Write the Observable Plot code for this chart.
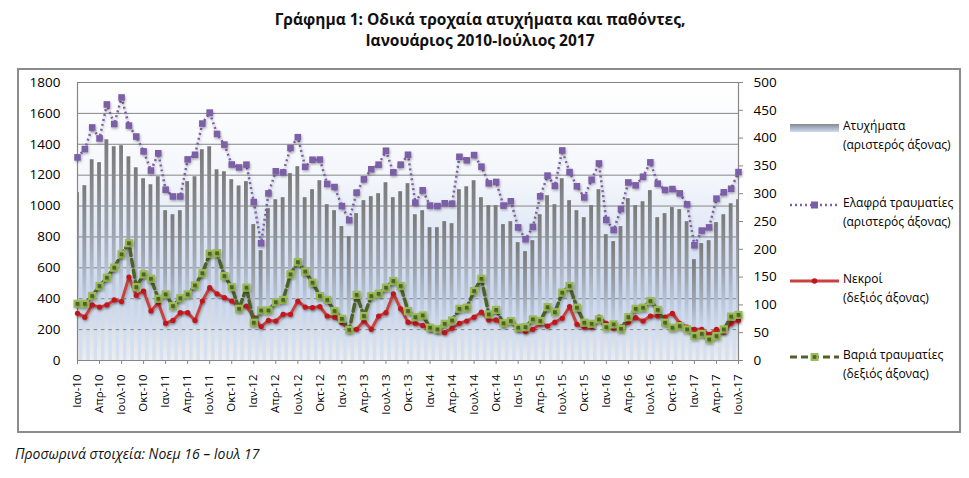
<!DOCTYPE html>
<html>
<head>
<meta charset="utf-8">
<script src="https://cdn.jsdelivr.net/npm/d3@7"></script>
<script src="https://cdn.jsdelivr.net/npm/@observablehq/plot@0.6"></script>
<style>
  html, body { margin: 0; padding: 0; background: #fff; }
  body { width: 969px; height: 478px; position: relative; overflow: hidden; font-family: "Open Sans", "Noto Sans", sans-serif; color: #000; }
  .title { position: absolute; left: 0; width: 960px; top: 9px; text-align: center; font-weight: 700; font-size: 15.5px; line-height: 21px; color: #111; }
  .frame { position: absolute; left: 17px; top: 68px; width: 944px; height: 365px; border: 2px solid #8c8c8c; box-sizing: border-box; }
  #chart { position: absolute; left: 0; top: 68px; }
  .caption { position: absolute; left: 15px; top: 445px; font-style: italic; font-size: 14px; line-height: 17px; color: #111; white-space: nowrap; }
  .leg { position: absolute; left: 790px; font-size: 12px; line-height: 18.5px; white-space: nowrap; }
  .leg svg { position: absolute; left: 0; }
  .leg .t { position: absolute; left: 53px; top: 0; }
</style>
</head>
<body>
<div class="title">Γράφημα 1: Οδικά τροχαία ατυχήματα και παθόντες,<br>Ιανουάριος 2010-Ιούλιος 2017</div>
<div class="frame"></div>
<div id="chart"></div>
<div id="legend"></div>
<div class="caption">Προσωρινά στοιχεία: Νοεμ 16 – Ιουλ 17</div>
<script>
// Monthly data, Jan 2010 – Jul 2017 (91 months)
const accidents = [1087,1132,1300,1281,1429,1384,1391,1319,1248,1177,1138,1190,
  970,944,970,1158,1190,1365,1384,1235,1222,1171,1130,1158,
  880,711,983,1041,1054,1210,1255,1054,1106,1164,1009,970,
  867,802,951,1035,1061,1080,1151,1054,1093,1145,944,970,
  860,860,899,886,1106,1125,1164,1054,1003,1003,880,899,
  763,705,776,944,1067,1009,1177,1035,970,925,1003,1106,
  815,770,867,1048,1003,1028,1100,925,951,990,977,899,
  653,757,776,893,944,1015,1041];
const lightInjured = [1315,1369,1509,1438,1658,1531,1703,1521,1450,1354,1230,1342,
  1106,1062,1062,1302,1332,1534,1605,1467,1398,1269,1250,1268,
  1026,759,1082,1225,1218,1376,1446,1254,1300,1301,1143,1123,
  1000,908,1087,1173,1238,1268,1358,1218,1268,1332,1022,1102,
  1003,1000,1018,1015,1319,1296,1330,1255,1147,1156,1003,1031,
  862,785,865,1063,1197,1130,1360,1220,1128,1056,1171,1276,
  910,845,981,1153,1134,1190,1283,1145,1104,1110,1082,1011,
  746,841,862,1048,1089,1112,1220];
const deaths = [85,78,100,96,100,109,106,150,117,125,89,104,
  67,72,86,86,72,107,131,120,113,107,95,98,
  77,61,72,71,83,83,107,96,95,97,80,78,
  68,56,56,71,56,80,86,120,93,69,67,63,
  56,53,50,58,67,71,78,87,73,73,65,72,
  56,52,56,66,62,69,76,97,65,60,60,78,
  67,58,60,69,77,71,80,80,78,85,67,60,
  56,56,47,56,51,67,72];
const seriousInjured = [102,102,116,134,149,167,191,211,132,155,147,111,
  119,98,112,119,135,157,192,193,152,132,93,131,
  68,90,90,105,109,155,177,160,140,116,109,89,
  75,55,118,80,116,120,131,143,134,89,78,81,
  59,56,66,72,93,95,125,147,83,91,67,71,
  59,60,74,71,96,87,122,134,95,68,66,74,
  60,65,57,78,93,95,107,91,68,59,62,56,
  44,48,38,44,56,79,82];
const tickLabels = ["Ιαν-10","Απρ-10","Ιουλ-10","Οκτ-10","Ιαν-11","Απρ-11","Ιουλ-11","Οκτ-11",
  "Ιαν-12","Απρ-12","Ιουλ-12","Οκτ-12","Ιαν-13","Απρ-13","Ιουλ-13","Οκτ-13",
  "Ιαν-14","Απρ-14","Ιουλ-14","Οκτ-14","Ιαν-15","Απρ-15","Ιουλ-15","Οκτ-15",
  "Ιαν-16","Απρ-16","Ιουλ-16","Οκτ-16","Ιαν-17","Απρ-17","Ιουλ-17"];
const leftTicks = [0,200,400,600,800,1000,1200,1400,1600,1800];
const rightTicks = [0,50,100,150,200,250,300,350,400,450,500];

const LEFT_MAX = 1800, RIGHT_MAX = 500, K = LEFT_MAX / RIGHT_MAX;
const rows = accidents.map((a, i) => ({
  i, acc: a, light: lightInjured[i], dead: deaths[i] * K, serious: seriousInjured[i] * K
}));
const tickIdx = tickLabels.map((_, j) => j * 3);
const GRID = "#868686";

const svg = Plot.plot({
  width: 969, height: 365,
  marginLeft: 77, marginRight: 231, marginTop: 14, marginBottom: 73,
  x: {domain: [0, rows.length - 1], label: null},
  y: {domain: [0, LEFT_MAX], label: null},
  style: {fontFamily: "'Open Sans', 'Noto Sans', sans-serif", background: "transparent", color: "#000", overflow: "visible"},
  marks: [
    Plot.frame({fill: "url(#bgGrad)", stroke: "none"}),
    Plot.ruleY(leftTicks, {stroke: GRID, strokeWidth: 1}),
    Plot.rectY(rows, {x1: d => d.i - 0.26, x2: d => d.i + 0.26, y: "acc", fill: "url(#barGrad)", clip: true}),
    Plot.ruleX([0, rows.length - 1], {stroke: GRID, strokeWidth: 1.2}),
    Plot.ruleY([0], {stroke: GRID, strokeWidth: 1.2}),
    Plot.axisY({anchor: "left", ticks: leftTicks, tickFormat: d => String(d), tickSize: 0, tickPadding: 17, fontSize: 13.5, label: null}),
    Plot.axisY({anchor: "right", ticks: rightTicks.map(v => v * K), tickFormat: d => String(Math.round(d / K)),
      tickSize: 4, tickPadding: 11, fontSize: 13.5, stroke: GRID, label: null}),
    Plot.axisX({anchor: "bottom", ticks: tickIdx, tickFormat: d => tickLabels[Math.round(d / 3)],
      tickRotate: -90, tickSize: 4, tickPadding: 10, fontSize: 11.5, stroke: GRID, label: null}),
    // light injuries (left axis)
    Plot.line(rows, {x: "i", y: "light", stroke: "#7b5ea7", strokeWidth: 2.5, strokeDasharray: "2,3", strokeLinecap: "butt"}),
    Plot.dot(rows, {x: "i", y: "light", symbol: "square", r: 3.7, fill: "#7b5ea7", stroke: "none"}),
    // deaths (right axis)
    Plot.line(rows, {x: "i", y: "dead", stroke: "#c8423f", strokeWidth: 3}),
    Plot.dot(rows, {x: "i", y: "dead", symbol: "circle", r: 2.6, fill: "#c0161c", stroke: "none"}),
    // serious injuries (right axis)
    Plot.line(rows, {x: "i", y: "serious", stroke: "#4f6228", strokeWidth: 3.5, strokeDasharray: "7,4"}),
    Plot.dot(rows, {x: "i", y: "serious", symbol: "square", r: 4.6, fill: "#9bbb59", stroke: "none"}),
    Plot.dot(rows, {x: "i", y: "serious", symbol: "square", r: 2.1, fill: "#4f6228", stroke: "none"})
  ]
});

const NS = "http://www.w3.org/2000/svg";
const defs = document.createElementNS(NS, "defs");
defs.innerHTML = `
  <linearGradient id="bgGrad" x1="0" y1="0" x2="0" y2="1">
    <stop offset="0" stop-color="#ffffff"/>
    <stop offset="0.35" stop-color="#f3f6fb"/>
    <stop offset="0.75" stop-color="#cbd9ef"/>
    <stop offset="1" stop-color="#d6e1f2"/>
  </linearGradient>
  <linearGradient id="barGrad" x1="0" y1="0" x2="0" y2="1">
    <stop offset="0" stop-color="#7a7a7a"/>
    <stop offset="0.4" stop-color="#9ea4ae"/>
    <stop offset="0.68" stop-color="#c5d0e2"/>
    <stop offset="1" stop-color="#eeeeee"/>
  </linearGradient>
  <filter id="shadow" x="-10%" y="-10%" width="120%" height="130%">
    <feDropShadow dx="0.8" dy="1.5" stdDeviation="1.2" flood-color="#000" flood-opacity="0.3"/>
  </filter>`;
svg.insertBefore(defs, svg.firstChild);
svg.querySelectorAll('g[aria-label="line"], g[aria-label="dot"]').forEach(g => g.setAttribute("filter", "url(#shadow)"));
document.getElementById("chart").appendChild(svg);

// Legend
const legendItems = [
  {name: "Ατυχήματα", axis: "(αριστερός άξονας)", base: 131, kind: "bar"},
  {name: "Ελαφρά τραυματίες", axis: "(αριστερός άξονας)", base: 208, kind: "light"},
  {name: "Νεκροί", axis: "(δεξιός άξονας)", base: 284, kind: "dead"},
  {name: "Βαριά τραυματίες", axis: "(δεξιός άξονας)", base: 360, kind: "serious"}
];
const legend = document.getElementById("legend");
for (const it of legendItems) {
  const top = it.base - 14;
  const div = document.createElement("div");
  div.className = "leg";
  div.style.top = top + "px";
  let sw = "";
  if (it.kind === "bar") {
    sw = `<svg width="50" height="12" style="top:6px"><defs><linearGradient id="lgBar" x1="0" y1="0" x2="0" y2="1"><stop offset="0" stop-color="#8a8a8a"/><stop offset="0.5" stop-color="#a6b2c6"/><stop offset="1" stop-color="#cfdcf0"/></linearGradient></defs><rect x="0" y="1" width="49" height="8" fill="url(#lgBar)"/></svg>`;
  } else if (it.kind === "light") {
    sw = `<svg width="50" height="12" style="top:5px"><line x1="0" x2="49" y1="6" y2="6" stroke="#7b5ea7" stroke-width="2.5" stroke-dasharray="2,3"/><rect x="21" y="2.5" width="7" height="7" fill="#7b5ea7"/></svg>`;
  } else if (it.kind === "dead") {
    sw = `<svg width="50" height="12" style="top:5px"><line x1="0" x2="49" y1="6" y2="6" stroke="#c8423f" stroke-width="3"/><circle cx="24.5" cy="6" r="2.8" fill="#c0161c"/></svg>`;
  } else {
    sw = `<svg width="50" height="12" style="top:5px"><line x1="0" x2="49" y1="6" y2="6" stroke="#4f6228" stroke-width="3.2" stroke-dasharray="7,4"/><rect x="20.5" y="2" width="8" height="8" fill="#9bbb59"/><rect x="22.7" y="4.2" width="3.6" height="3.6" fill="#4f6228"/></svg>`;
  }
  div.innerHTML = sw + `<div class="t">${it.name}<br>${it.axis}</div>`;
  legend.appendChild(div);
}
</script>
</body>
</html>
